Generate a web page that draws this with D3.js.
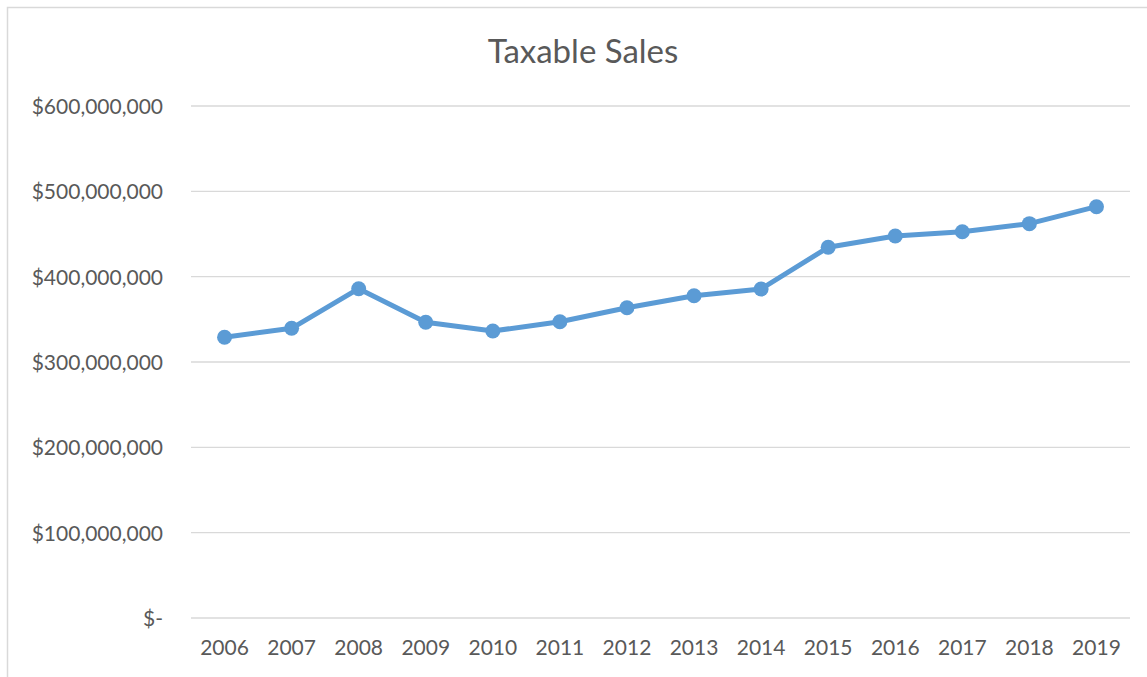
<!DOCTYPE html>
<html>
<head>
<meta charset="utf-8">
<script src="https://cdn.jsdelivr.net/npm/d3@7"></script>
<style>
  html, body { margin: 0; padding: 0; background: #fff; }
  svg { display: block; }
</style>
</head>
<body>
<div id="chart"></div>
<script>
// Annual taxable sales, in dollars
const years = ["2006", "2007", "2008", "2009", "2010", "2011", "2012",
               "2013", "2014", "2015", "2016", "2017", "2018", "2019"];
const sales = [329000000, 339500000, 385900000, 346500000, 336300000, 347200000, 363600000,
               377700000, 385600000, 434400000, 447700000, 452700000, 462100000, 482000000];
const yTicks = [0, 100000000, 200000000, 300000000, 400000000, 500000000, 600000000];
const title = "Taxable Sales";

const W = 1147, H = 677;
const margin = { left: 191, right: 17, top: 106, bottom: 59 };
const font = "Lato, 'Open Sans', sans-serif";
const textColor = "#595959";
const lineColor = "#5B9BD5";

const svg = d3.select("#chart").append("svg")
  .attr("width", W).attr("height", H);

// chart frame
svg.append("rect")
  .attr("x", 7.5).attr("y", 7.5)
  .attr("width", W + 10).attr("height", H + 10)
  .attr("fill", "#fff").attr("stroke", "#d9d9d9").attr("stroke-width", 1.5);

const x = d3.scaleBand().domain(years)
  .range([margin.left, W - margin.right]);
const y = d3.scaleLinear().domain([0, 600000000])
  .range([H - margin.bottom, margin.top]);

const fmt = v => v === 0 ? "$-" : "$" + d3.format(",")(v);

// horizontal gridlines
svg.append("g")
  .selectAll("line").data(yTicks).join("line")
  .attr("x1", x.range()[0]).attr("x2", x.range()[1])
  .attr("y1", d => y(d)).attr("y2", d => y(d))
  .attr("stroke", "#d9d9d9").attr("stroke-width", 1.4);

// value axis labels
const yAxis = svg.append("g")
  .attr("transform", `translate(${margin.left - 28},0)`)
  .call(d3.axisLeft(y).tickValues(yTicks).tickFormat(fmt).tickSize(0).tickPadding(0));
yAxis.select(".domain").remove();
yAxis.selectAll("text")
  .attr("font-family", font).attr("font-size", 21)
  .attr("fill", textColor).attr("dy", "0.36em");

// category axis labels
const xAxis = svg.append("g")
  .attr("transform", `translate(0,${H - margin.bottom})`)
  .call(d3.axisBottom(x).tickSize(0).tickPadding(22));
xAxis.select(".domain").remove();
xAxis.selectAll("text")
  .attr("font-family", font).attr("font-size", 21)
  .attr("fill", textColor);

// title
svg.append("text")
  .attr("x", 583).attr("y", 63)
  .attr("text-anchor", "middle")
  .attr("font-family", font).attr("font-size", 33)
  .attr("fill", textColor)
  .text(title);

const cx = (d, i) => x(years[i]) + x.bandwidth() / 2;

// series line
svg.append("path")
  .datum(sales)
  .attr("fill", "none")
  .attr("stroke", lineColor)
  .attr("stroke-width", 5)
  .attr("stroke-linejoin", "round")
  .attr("d", d3.line().x(cx).y(d => y(d)));

// markers
svg.append("g")
  .selectAll("circle").data(sales).join("circle")
  .attr("cx", cx).attr("cy", d => y(d))
  .attr("r", 7.5)
  .attr("fill", lineColor);
</script>
</body>
</html>
